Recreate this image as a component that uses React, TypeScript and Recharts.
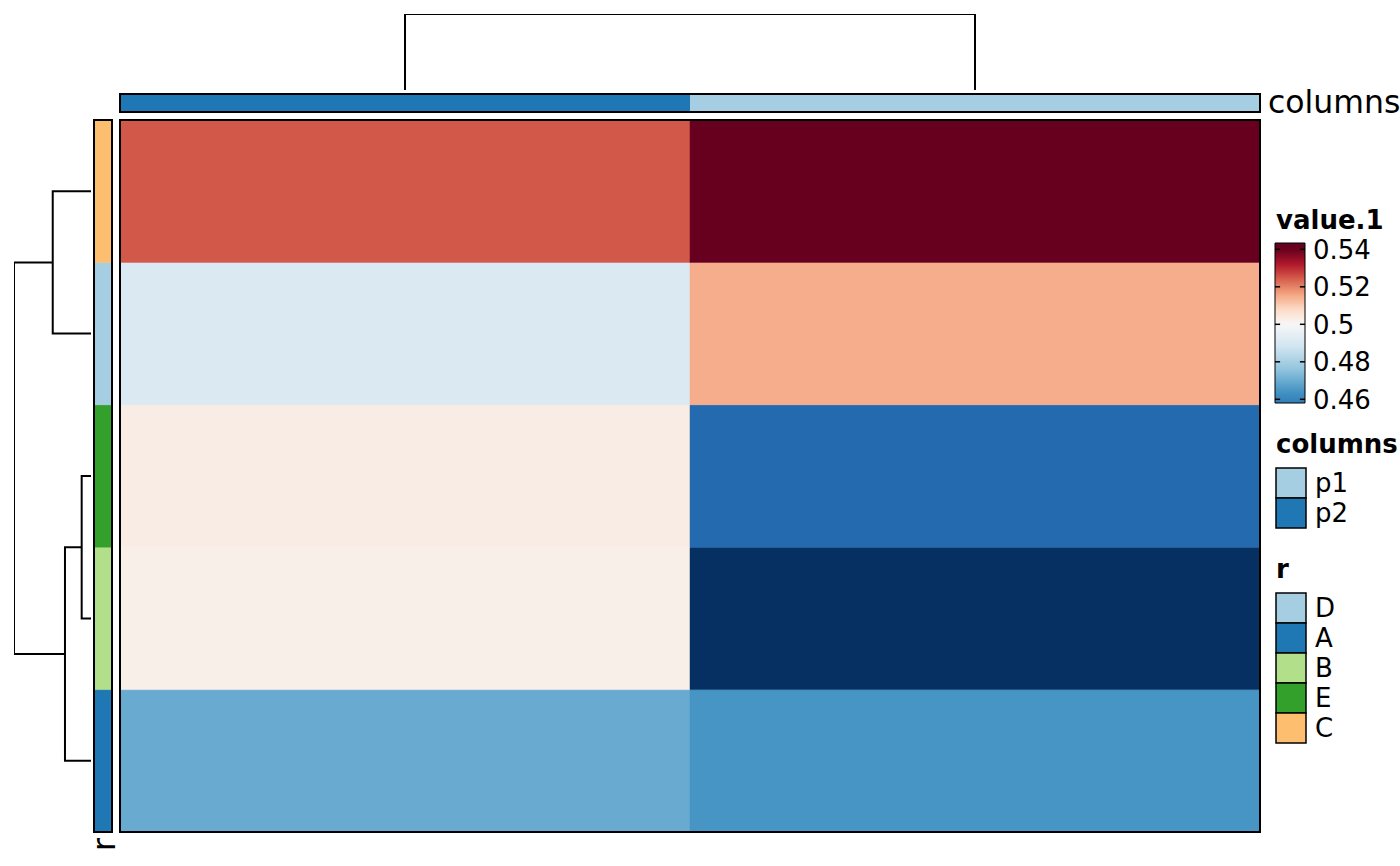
import React from 'react';
import {
  BarChart,
  Bar,
  Cell,
  ComposedChart,
  Line,
  XAxis,
  YAxis,
  ReferenceArea,
} from 'recharts';

const FONT = '"DejaVu Sans", sans-serif';

// heatmap layout after clustering
const columns = ['p2', 'p1']; // left -> right
const rows = ['C', 'D', 'E', 'B', 'A']; // top -> bottom
const valuesP2 = [0.5248, 0.491, 0.5032, 0.5024, 0.4696];
const valuesP1 = [0.54, 0.5148, 0.4532, 0.44, 0.4644];

// annotations
const columnGroups = ['p1', 'p2'];
const columnGroupColors = ['#A6CEE3', '#1F78B4'];
const rowGroups = ['D', 'A', 'B', 'E', 'C'];
const rowGroupColors = ['#A6CEE3', '#1F78B4', '#B2DF8A', '#33A02C', '#FDBF6F'];

// colour legend
const legendTicks = [0.46, 0.48, 0.5, 0.52, 0.54];
const legendRange = [0.45803, 0.54336];

// dendrograms, heights relative to the root
const rowMerges = [
  { id: 'CD', left: 'C', right: 'D', height: 0.497 },
  { id: 'EB', left: 'E', right: 'B', height: 0.121 },
  { id: 'EBA', left: 'EB', right: 'A', height: 0.338 },
  { id: 'root', left: 'CD', right: 'EBA', height: 1 },
];
const colMerges = [{ id: 'root', left: 'p2', right: 'p1', height: 1 }];

// RdBu, low -> high, breaks at min / 0.5 / max
const RDBU = [
  '#053061', '#2166AC', '#4393C3', '#92C5DE', '#D1E5F0', '#F7F7F7',
  '#FDDBC7', '#F4A582', '#D6604D', '#B2182B', '#67001F',
];
const colorBreaks = [0.44, 0.5, 0.54];

function hexToRgb(h: string) {
  return [1, 3, 5].map((i) => parseInt(h.slice(i, i + 2), 16));
}

function colorOf(v: number) {
  const [lo, mid, hi] = colorBreaks;
  let s = v < mid ? ((v - lo) / (mid - lo)) * 5 : 5 + ((v - mid) / (hi - mid)) * 5;
  s = Math.max(0, Math.min(10, s));
  const i = Math.min(9, Math.floor(s));
  const t = s - i;
  const a = hexToRgb(RDBU[i]);
  const b = hexToRgb(RDBU[i + 1]);
  const c = a.map((x, k) => Math.round(x + (b[k] - x) * t));
  return `rgb(${c[0]},${c[1]},${c[2]})`;
}

function dendroPaths(leaves: string[], merges: { id: string; left: string; right: string; height: number }[]) {
  const pos: Record<string, { p: number; h: number }> = {};
  leaves.forEach((l, i) => (pos[l] = { p: i + 0.5, h: 0 }));
  return merges.map((m) => {
    const a = pos[m.left];
    const b = pos[m.right];
    pos[m.id] = { p: (a.p + b.p) / 2, h: m.height };
    return [
      { p: a.p, h: a.h },
      { p: a.p, h: m.height },
      { p: b.p, h: m.height },
      { p: b.p, h: b.h },
    ];
  });
}

const heatValues = [valuesP2, valuesP1];
const heatData = columns.map((c) => {
  const o: Record<string, any> = { col: c };
  rows.forEach((r) => (o[r] = 1));
  return o;
});
const colAnnoData = columns.map((c) => ({ col: c, v: 1 }));
const rowAnnoData = [Object.fromEntries([['k', 'r'], ...rows.map((r) => [r, 1])])];

const rowPaths = dendroPaths(rows, rowMerges);
const colPaths = dendroPaths(columns, colMerges);

// short inward tick marks on both sides of the colour bar
const tickMarks = legendTicks.flatMap((t) => [
  [{ x: 0, y: t }, { x: 0.17, y: t }],
  [{ x: 0.83, y: t }, { x: 1, y: t }],
]);

const noMargin = { top: 0, right: 0, bottom: 0, left: 0 };
const stackOrder = [...rows].reverse(); // first bar sits at the bottom

const gradientStops = Array.from({ length: 41 }, (_, i) => {
  const v = legendRange[1] - ((legendRange[1] - legendRange[0]) * i) / 40;
  return { offset: i / 40, color: colorOf(v) };
});

const box = (left: number, top: number, width: number, height: number): React.CSSProperties => ({
  position: 'absolute',
  left,
  top,
  width,
  height,
});

function Frame({ left, top, width, height }: { left: number; top: number; width: number; height: number }) {
  return (
    <div
      style={{
        ...box(left, top, width, height),
        border: '2px solid #000',
        boxSizing: 'border-box',
        pointerEvents: 'none',
      }}
    />
  );
}

export default function App() {
  return (
    <div style={{ position: 'fixed', left: 0, top: 0, width: 1400, height: 866, background: '#fff', overflow: 'hidden', fontFamily: FONT }}>
      {/* column dendrogram */}
      <div style={box(120, 12, 1140, 80)}>
        <ComposedChart width={1140} height={80} margin={{ top: 2, right: 0, bottom: 2, left: 0 }}>
          <XAxis type="number" dataKey="p" domain={[0, columns.length]} hide allowDataOverflow />
          <YAxis type="number" domain={[0, 1]} hide allowDataOverflow />
          {colPaths.map((d, i) => (
            <Line key={i} data={d} dataKey="h" type="linear" stroke="#000" strokeWidth={2} dot={false} isAnimationActive={false} />
          ))}
        </ComposedChart>
      </div>

      {/* row dendrogram */}
      <div style={box(12, 120, 81, 712)}>
        <ComposedChart width={81} height={712} margin={{ top: 0, right: 2, bottom: 0, left: 2 }}>
          <XAxis type="number" dataKey="h" domain={[0, 1]} reversed hide allowDataOverflow />
          <YAxis type="number" dataKey="p" domain={[0, rows.length]} reversed hide allowDataOverflow />
          {rowPaths.map((d, i) => (
            <Line key={i} data={d} dataKey="p" type="linear" stroke="#000" strokeWidth={2} dot={false} isAnimationActive={false} />
          ))}
        </ComposedChart>
      </div>

      {/* column annotation */}
      <div style={box(120, 94, 1140, 18)}>
        <BarChart width={1140} height={18} data={colAnnoData} margin={noMargin} barCategoryGap={0}>
          <XAxis dataKey="col" hide />
          <YAxis type="number" domain={[0, 1]} hide />
          <Bar dataKey="v" isAnimationActive={false}>
            {colAnnoData.map((d) => (
              <Cell key={d.col} fill={columnGroupColors[columnGroups.indexOf(d.col)]} />
            ))}
          </Bar>
        </BarChart>
      </div>
      <Frame left={119} top={93} width={1142} height={20} />

      {/* row annotation */}
      <div style={box(94, 120, 18, 712)}>
        <BarChart width={18} height={712} data={rowAnnoData} margin={noMargin} barCategoryGap={0}>
          <XAxis dataKey="k" hide />
          <YAxis type="number" domain={[0, rows.length]} hide />
          {stackOrder.map((r) => {
            const c = rowGroupColors[rowGroups.indexOf(r)];
            return <Bar key={r} dataKey={r} stackId="r" fill={c} stroke={c} strokeWidth={0.5} isAnimationActive={false} />;
          })}
        </BarChart>
      </div>
      <Frame left={93} top={119} width={20} height={714} />

      {/* heatmap body */}
      <div style={box(120, 120, 1140, 712)}>
        <BarChart width={1140} height={712} data={heatData} margin={noMargin} barCategoryGap={0}>
          <XAxis dataKey="col" hide />
          <YAxis type="number" domain={[0, rows.length]} hide />
          {stackOrder.map((r) => {
            const ri = rows.indexOf(r);
            return (
              <Bar key={r} dataKey={r} stackId="h" isAnimationActive={false}>
                {heatData.map((d, ci) => {
                  const c = colorOf(heatValues[ci][ri]);
                  return <Cell key={d.col} fill={c} stroke={c} strokeWidth={0.5} />;
                })}
              </Bar>
            );
          })}
        </BarChart>
      </div>
      <Frame left={119} top={119} width={1142} height={714} />

      {/* colour bar legend */}
      <div style={box(1274, 221, 124, 204)}>
        <ComposedChart width={124} height={204} margin={{ top: 22, right: 0, bottom: 22, left: 1 }}>
          <defs>
            <linearGradient id="cbar" x1="0" y1="0" x2="0" y2="1">
              {gradientStops.map((s, i) => (
                <stop key={i} offset={s.offset} stopColor={s.color} />
              ))}
            </linearGradient>
          </defs>
          <XAxis type="number" dataKey="x" domain={[0, 1]} hide allowDataOverflow />
          <YAxis
            type="number"
            dataKey="y"
            orientation="right"
            domain={legendRange}
            ticks={legendTicks}
            interval={0}
            width={93}
            allowDataOverflow
            tickLine={false}
            axisLine={false}
            tick={{ fontSize: 26, fill: '#000', fontFamily: FONT }}
            tickFormatter={(v) => String(v)}
          />
          <ReferenceArea x1={0} x2={1} y1={legendRange[0]} y2={legendRange[1]} fill="url(#cbar)" fillOpacity={1} stroke="#000" strokeWidth={1} ifOverflow="visible" />
          {tickMarks.map((d, i) => (
            <Line key={i} data={d} dataKey="y" type="linear" stroke="#000" strokeWidth={1.5} dot={false} isAnimationActive={false} />
          ))}
        </ComposedChart>
      </div>

      {/* titles, names and discrete legends */}
      <svg width={1400} height={866} style={{ position: 'absolute', left: 0, top: 0, pointerEvents: 'none' }} fontFamily={FONT}>
        <text x={1268} y={113} fontSize={31.5} fill="#000">columns</text>
        <text transform="translate(115,838) rotate(-90)" textAnchor="end" fontSize={31.5} fill="#000">r</text>

        <text x={1276} y={229} fontSize={26} fontWeight="bold" fill="#000">value.1</text>

        <text x={1276} y={453} fontSize={26} fontWeight="bold" fill="#000">columns</text>
        {columnGroups.map((g, i) => (
          <g key={g}>
            <rect x={1276} y={468 + i * 30} width={30} height={30} fill={columnGroupColors[i]} stroke="#000" strokeWidth={1.5} />
            <text x={1315} y={483 + i * 30} dy="0.36em" fontSize={26} fill="#000">{g}</text>
          </g>
        ))}

        <text x={1276} y={578} fontSize={26} fontWeight="bold" fill="#000">r</text>
        {rowGroups.map((g, i) => (
          <g key={g}>
            <rect x={1276} y={593 + i * 30} width={30} height={30} fill={rowGroupColors[i]} stroke="#000" strokeWidth={1.5} />
            <text x={1315} y={608 + i * 30} dy="0.36em" fontSize={26} fill="#000">{g}</text>
          </g>
        ))}
      </svg>
    </div>
  );
}
